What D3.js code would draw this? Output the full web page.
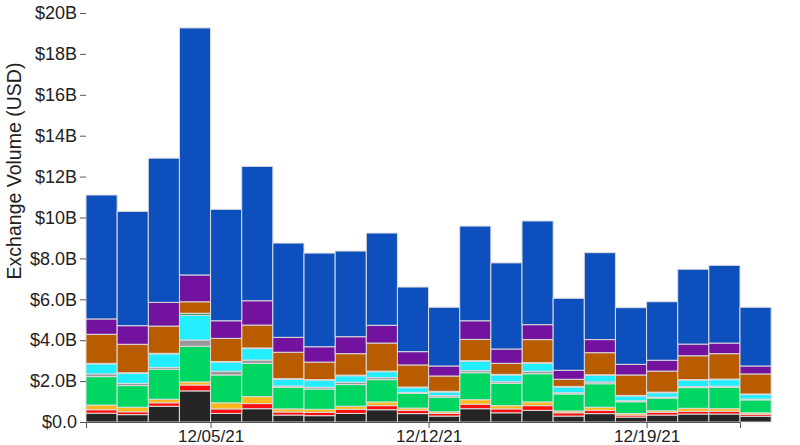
<!DOCTYPE html>
<html>
<head>
<meta charset="utf-8">
<script src="https://cdn.jsdelivr.net/npm/d3@7"></script>
<style>
  html, body { margin: 0; padding: 0; background: #fff; }
  svg { display: block; font-family: "Liberation Sans", Arial, Helvetica, sans-serif; }
</style>
</head>
<body>
<svg id="chart" width="800" height="445"></svg>
<script>
// Dates (one bar per day)
const dates = ["2021-12-01","2021-12-02","2021-12-03","2021-12-04","2021-12-05","2021-12-06","2021-12-07","2021-12-08","2021-12-09","2021-12-10","2021-12-11","2021-12-12","2021-12-13","2021-12-14","2021-12-15","2021-12-16","2021-12-17","2021-12-18","2021-12-19","2021-12-20","2021-12-21","2021-12-22"];

// Series values in billions USD, stacked bottom to top
const seriesBlack  = [0.43,0.36,0.77,1.52,0.42,0.65,0.34,0.31,0.42,0.60,0.41,0.29,0.65,0.45,0.57,0.29,0.41,0.24,0.34,0.39,0.39,0.28];
const seriesRed    = [0.17,0.14,0.17,0.29,0.22,0.25,0.15,0.16,0.20,0.20,0.16,0.13,0.22,0.19,0.23,0.16,0.16,0.10,0.13,0.13,0.13,0.10];
const seriesYellow = [0.23,0.22,0.17,0.15,0.30,0.34,0.15,0.15,0.15,0.18,0.11,0.08,0.22,0.16,0.18,0.09,0.15,0.08,0.08,0.15,0.13,0.07];
const seriesGreen  = [1.39,1.06,1.47,1.74,1.36,1.63,1.06,0.99,1.06,1.09,0.72,0.72,1.32,1.09,1.38,0.83,1.15,0.57,0.62,1.01,1.05,0.63];
const seriesGray   = [0.13,0.11,0.09,0.31,0.18,0.16,0.06,0.09,0.11,0.10,0.05,0.07,0.10,0.08,0.12,0.06,0.09,0.05,0.05,0.05,0.05,0.04];
const seriesCyan   = [0.49,0.49,0.66,1.21,0.45,0.56,0.33,0.34,0.32,0.29,0.23,0.18,0.46,0.33,0.39,0.28,0.32,0.23,0.21,0.31,0.32,0.22];
const seriesTeal   = [0.03,0.03,0.03,0.10,0.03,0.03,0.03,0.03,0.03,0.03,0.03,0.03,0.03,0.03,0.03,0.03,0.03,0.03,0.03,0.03,0.03,0.03];
const seriesOrange = [1.42,1.39,1.33,0.56,1.13,1.12,1.29,0.86,1.05,1.37,1.08,0.75,1.04,0.54,1.13,0.35,1.08,1.00,1.03,1.17,1.24,0.98];
const seriesPurple = [0.75,0.91,1.16,1.31,0.86,1.19,0.73,0.75,0.83,0.87,0.65,0.49,0.91,0.70,0.73,0.44,0.64,0.52,0.53,0.57,0.52,0.39];
const seriesBlue   = [6.06,5.59,7.05,12.08,5.45,6.57,4.61,4.58,4.19,4.51,3.16,2.87,4.63,4.21,5.07,3.52,4.25,2.77,2.86,3.66,3.80,2.87];

const seriesKeys   = ["black","red","yellow","green","gray","cyan","teal","orange","purple","blue"];
const seriesColors = ["#252525","#ff0d0d","#fdb81e","#00d763","#999999","#22eeff","#1f8c4e","#b95b00","#73129f","#0c4fbd"];
const yTicks = [0,2,4,6,8,10,12,14,16,18,20];

const seriesArrays = [seriesBlack,seriesRed,seriesYellow,seriesGreen,seriesGray,seriesCyan,seriesTeal,seriesOrange,seriesPurple,seriesBlue];
const parse = d3.timeParse("%Y-%m-%d");
const rows = dates.map((d,i) => {
  const r = {date: parse(d)};
  seriesKeys.forEach((k,j) => r[k] = seriesArrays[j][i]);
  return r;
});

const svg = d3.select("#chart");
const x = d3.scaleTime()
  .domain([parse(dates[0]), parse(dates[dates.length-1])])
  .range([86, 740]);
const y = d3.scaleLinear().domain([0, 20]).range([422, 13]);
const color = d3.scaleOrdinal().domain(seriesKeys).range(seriesColors);

const stacked = d3.stack().keys(seriesKeys)(rows);

svg.append("g")
  .selectAll("g")
  .data(stacked)
  .join("g")
  .attr("fill", d => color(d.key))
  .selectAll("rect")
  .data(d => d)
  .join("rect")
  .attr("x", d => x(d.data.date))
  .attr("width", d => x(d3.timeDay.offset(d.data.date, 1)) - x(d.data.date))
  .attr("y", d => y(d[1]))
  .attr("height", d => y(d[0]) - y(d[1]))
  .attr("stroke", "#dcdcdc")
  .attr("stroke-width", 1);

const fmt = d => d === 0 ? "$0.0" : d3.format("$.2s")(d * 1e9).replace("G", "B");

const yAxis = svg.append("g")
  .attr("transform", "translate(86,0)")
  .call(d3.axisLeft(y).tickValues(yTicks).tickFormat(fmt).tickSize(6));
yAxis.select(".domain").remove();
yAxis.selectAll("text").attr("font-size", 18).attr("fill", "#222").attr("font-family", "Liberation Sans, Arial, sans-serif");
yAxis.selectAll("line").attr("stroke", "#555");

const xAxis = svg.append("g")
  .attr("transform", "translate(0,422)")
  .call(d3.axisBottom(x).ticks(d3.timeWeek.every(1)).tickFormat(d3.timeFormat("%m/%d/%y")).tickSize(6).tickPadding(2));
xAxis.selectAll("text").attr("font-size", 17).attr("fill", "#222").attr("font-family", "Liberation Sans, Arial, sans-serif");
xAxis.selectAll("line, path").attr("stroke", "#555");

svg.append("text")
  .attr("transform", "translate(21,171) rotate(-90)")
  .attr("text-anchor", "middle")
  .attr("font-size", 19.5)
  .attr("fill", "#222")
  .text("Exchange Volume (USD)");
</script>
</body>
</html>
